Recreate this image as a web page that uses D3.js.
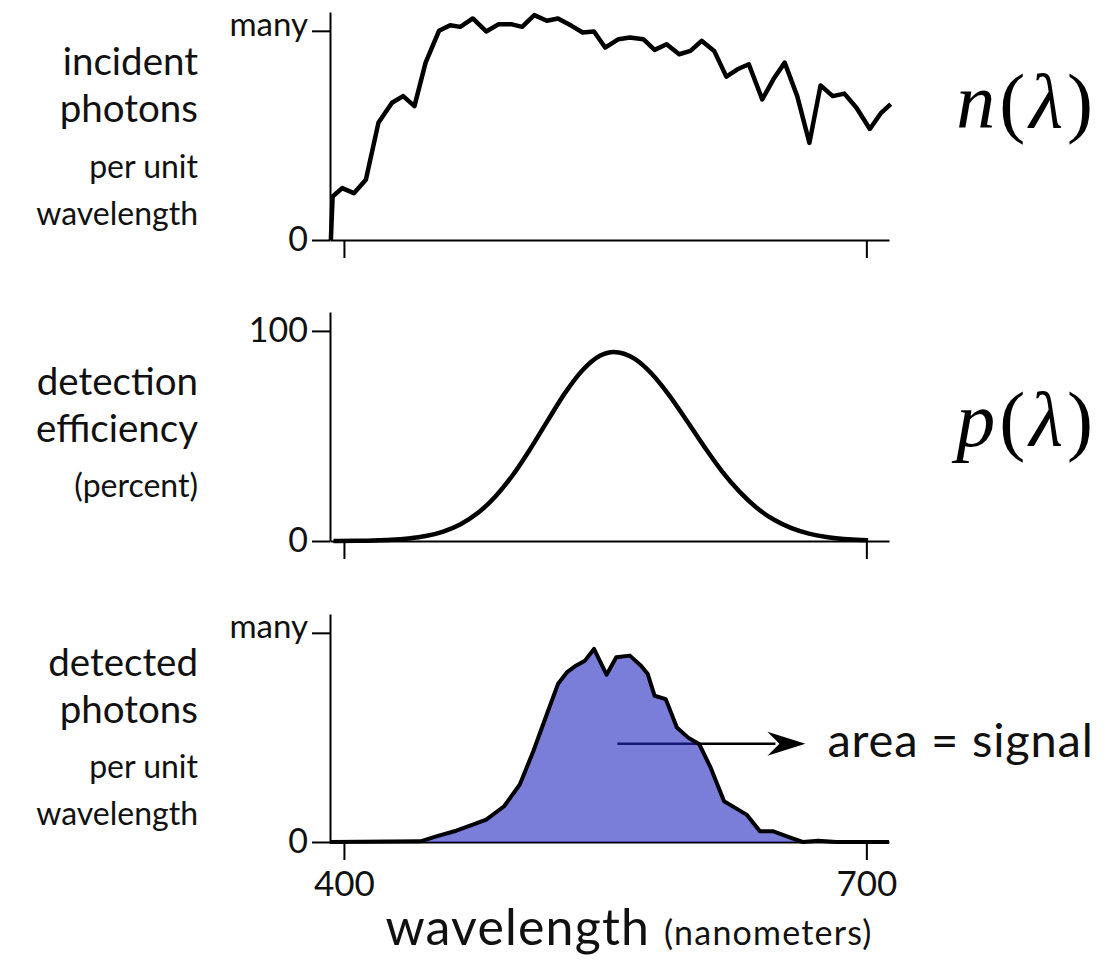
<!DOCTYPE html>
<html>
<head>
<meta charset="utf-8">
<script src="https://cdn.jsdelivr.net/npm/d3@7"></script>
<style>
  body { margin: 0; background: #fff; }
  svg { display: block; }
  .lbl { font-family: Lato, "Noto Sans", sans-serif; fill: #111; }
  .math { font-family: "Liberation Serif", "DejaVu Serif", serif; fill: #000; }
</style>
</head>
<body>
<svg id="chart" width="1109" height="968"></svg>
<script>
// Incident spectrum: wavelength (nm) and photon count relative to "many"
const incidentWavelength = [392.5, 393.5, 399, 405.7, 412.6, 419.8, 427.6, 434, 440.5, 446.9,
  454.6, 461, 466.8, 474, 481.7, 488.9, 495.9, 502.3, 509.3, 516.5, 522.9, 530.7, 537.1, 543.6,
  550, 557.7, 564.2, 571.9, 578.4, 585.3, 592.5, 599, 605.4, 612.6, 619.6, 626, 632.5, 640.2,
  646.6, 653.1, 660.3, 667.3, 673.7, 680.7, 687.4, 694.3, 702, 708.5, 714];
const incidentPhotons = [0, 0.208, 0.248, 0.224, 0.288, 0.56, 0.656, 0.688, 0.64, 0.848,
  1.0, 1.027, 1.019, 1.059, 0.997, 1.032, 1.032, 1.019, 1.075, 1.048, 1.059, 1.024, 0.992, 0.997,
  0.92, 0.96, 0.968, 0.96, 0.909, 0.936, 0.888, 0.904, 0.952, 0.904, 0.781, 0.816, 0.84, 0.672,
  0.768, 0.848, 0.688, 0.464, 0.739, 0.688, 0.70, 0.632, 0.531, 0.608, 0.65];

// Detector efficiency curve (percent)
const efficiencyWavelength = [394, 397, 407, 417, 427, 437, 447, 457, 467, 477, 487, 497, 507,
  517, 527, 537, 547, 555, 567, 577, 587, 597, 607, 617, 627, 637, 647, 657, 667, 677, 687, 697, 701];
const efficiencyPercent = [0.02, 0.04, 0.1, 0.23, 0.54, 1.2, 2.35, 4.5, 8.0, 13.4, 21.2, 31.4, 43.8,
  57.3, 70.5, 81.3, 88.2, 90, 86.7, 79.4, 69.1, 57.1, 44.8, 33.3, 23.6, 15.8, 10.1, 6.1, 3.5, 1.9, 1.0, 0.5, 0.4];

// Detected spectrum: wavelength (nm) and photon count relative to "many"
const detectedWavelength = [392, 444, 453, 464.5, 474, 481.7, 492, 501, 508.8, 516.5, 522.9,
  528, 533.2, 538.4, 543.6, 550.8, 556.4, 564.2, 570.6, 574.5, 578.4, 584.8, 591.2, 597.7, 604.1,
  610.6, 618.3, 624.7, 631.2, 638.9, 646.6, 654.4, 663.4, 672.4, 682.7, 713];
const detectedPhotons = [0, 0.003, 0.027, 0.054, 0.083, 0.107, 0.171, 0.275, 0.435, 0.611, 0.755,
  0.811, 0.843, 0.867, 0.923, 0.8, 0.883, 0.891, 0.843, 0.803, 0.699, 0.683, 0.547, 0.499, 0.467,
  0.355, 0.195, 0.163, 0.131, 0.051, 0.051, 0.027, 0, 0.006, 0, 0];

const xTickValues = [400, 700];
const xTickLabels = ["400", "700"];
const yTickLabels = [["0", "many"], ["0", "100"], ["0", "many"]];
const yTickValues = [[0, 1], [0, 100], [0, 1]];
const panelTitles = [
  ["incident", "photons", "per unit", "wavelength"],
  ["detection", "efficiency", "(percent)"],
  ["detected", "photons", "per unit", "wavelength"]
];
// annotation arrow in the bottom panel: [wavelength, level]
const signalArrow = [[557, 0.47], [665, 0.47]];

const svg = d3.select("#chart");

const x = d3.scaleLinear().domain([392, 713]).range([330, 889]);

// vertical extent of each panel: baseline pixel, top of axis line, top of domain
const panels = [
  { bottom: 240, top: 12, max: 1.09 },
  { bottom: 541, top: 312, max: 109 },
  { bottom: 842, top: 614, max: 1.09 }
];
panels.forEach(p => {
  p.y = d3.scaleLinear().domain([0, p.max]).range([p.bottom, p.top]);
});

function styleAxis(g, size) {
  g.selectAll(".domain").attr("stroke", "#000").attr("stroke-width", 2);
  g.selectAll(".tick line").attr("stroke", "#000").attr("stroke-width", 2);
  g.selectAll(".tick text")
    .attr("class", "lbl")
    .style("font-family", "Lato, 'Noto Sans', sans-serif")
    .style("font-size", size + "px")
    .attr("fill", "#111");
  g.attr("font-family", null).attr("font-size", null);
}

panels.forEach((p, i) => {
  // x axis (labels only on the bottom panel)
  const gx = svg.append("g").attr("transform", `translate(0,${p.bottom})`)
    .call(d3.axisBottom(x).tickValues(xTickValues).tickSize(18).tickSizeOuter(0).tickPadding(11)
      .tickFormat((d, k) => i === 2 ? xTickLabels[k] : ""));
  styleAxis(gx, 35);

  // y axis
  const gy = svg.append("g").attr("transform", "translate(330,0)")
    .call(d3.axisLeft(p.y).tickValues(yTickValues[i]).tickSize(18).tickSizeOuter(0).tickPadding(4)
      .tickFormat((d, k) => yTickLabels[i][k]));
  styleAxis(gy, 34);
  gy.selectAll(".tick text").filter((d, k) => yTickLabels[i][k] === "many")
    .style("font-size", "33px").attr("dy", "0.15em");
});

// panel titles on the left
const titleLayouts = [
  [[75, 38.5], [122, 38.5], [178, 32], [225, 32]],
  [[395, 38.5], [442, 38.5], [497, 32]],
  [[676, 38.5], [723, 38.5], [778, 32], [825, 32]]
];
panelTitles.forEach((lines, i) => {
  lines.forEach((t, k) => {
    svg.append("text").attr("class", "lbl")
      .attr("x", 198).attr("y", titleLayouts[i][k][0])
      .attr("text-anchor", "end")
      .style("font-size", titleLayouts[i][k][1] + "px")
      .text(t);
  });
});

// incident photons
const incidentData = incidentWavelength.map((w, k) => [w, incidentPhotons[k]]);
svg.append("path").datum(incidentData)
  .attr("fill", "none").attr("stroke", "#000").attr("stroke-width", 4.5)
  .attr("stroke-linejoin", "round")
  .attr("d", d3.line().x(d => x(d[0])).y(d => panels[0].y(d[1])));

// detection efficiency
const effData = efficiencyWavelength.map((w, k) => [w, efficiencyPercent[k]]);
svg.append("path").datum(effData)
  .attr("fill", "none").attr("stroke", "#000").attr("stroke-width", 4.5)
  .attr("d", d3.line().curve(d3.curveMonotoneX).x(d => x(d[0])).y(d => panels[1].y(d[1])));

// detected photons: arrow shaft beneath a translucent fill
const y3 = panels[2].y;
const a0 = [x(signalArrow[0][0]), y3(signalArrow[0][1])];
const a1 = [x(signalArrow[1][0]), y3(signalArrow[1][1])];
svg.append("line")
  .attr("x1", a0[0]).attr("y1", a0[1]).attr("x2", a1[0] - 30).attr("y2", a1[1])
  .attr("stroke", "#000").attr("stroke-width", 2.5);

const detData = detectedWavelength.map((w, k) => [w, detectedPhotons[k]]);
svg.append("path").datum(detData)
  .attr("fill", "#2128be").attr("fill-opacity", 0.6)
  .attr("d", d3.area().x(d => x(d[0])).y0(y3(0)).y1(d => y3(d[1])));
svg.append("path").datum(detData)
  .attr("fill", "none").attr("stroke", "#000").attr("stroke-width", 4)
  .attr("stroke-linejoin", "round")
  .attr("d", d3.line().x(d => x(d[0])).y(d => y3(d[1])));

// arrow head
svg.append("path")
  .attr("d", `M${a1[0]},${a1[1]} L${a1[0] - 38},${a1[1] - 12} L${a1[0] - 26},${a1[1]} L${a1[0] - 38},${a1[1] + 12} Z`)
  .attr("fill", "#000");

svg.append("text").attr("class", "lbl")
  .attr("x", a1[0] + 22).attr("y", a1[1] + 13)
  .style("font-size", "47px").style("letter-spacing", "0.8px")
  .text("area = signal");

// bottom axis title
const xt = svg.append("text").attr("class", "lbl")
  .attr("x", 629).attr("y", 945).attr("text-anchor", "middle")
  .style("letter-spacing", "1.2px");
xt.append("tspan").style("font-size", "50px").text("wavelength ");
xt.append("tspan").style("font-size", "34px").text("(nanometers)");

// symbols n(λ) and p(λ)
function mathLabel(sym, xr, yb) {
  const t = svg.append("text").attr("class", "math")
    .attr("x", xr).attr("y", yb).attr("text-anchor", "end")
    .style("font-size", "78px").style("letter-spacing", "4px");
  t.append("tspan").style("font-style", "italic").text(sym);
  t.append("tspan").text("(");
  t.append("tspan").style("font-style", "italic").text("λ");
  t.append("tspan").text(")");
}
mathLabel("n", 1097, 128);
mathLabel("p", 1097, 446);
</script>
</body>
</html>
